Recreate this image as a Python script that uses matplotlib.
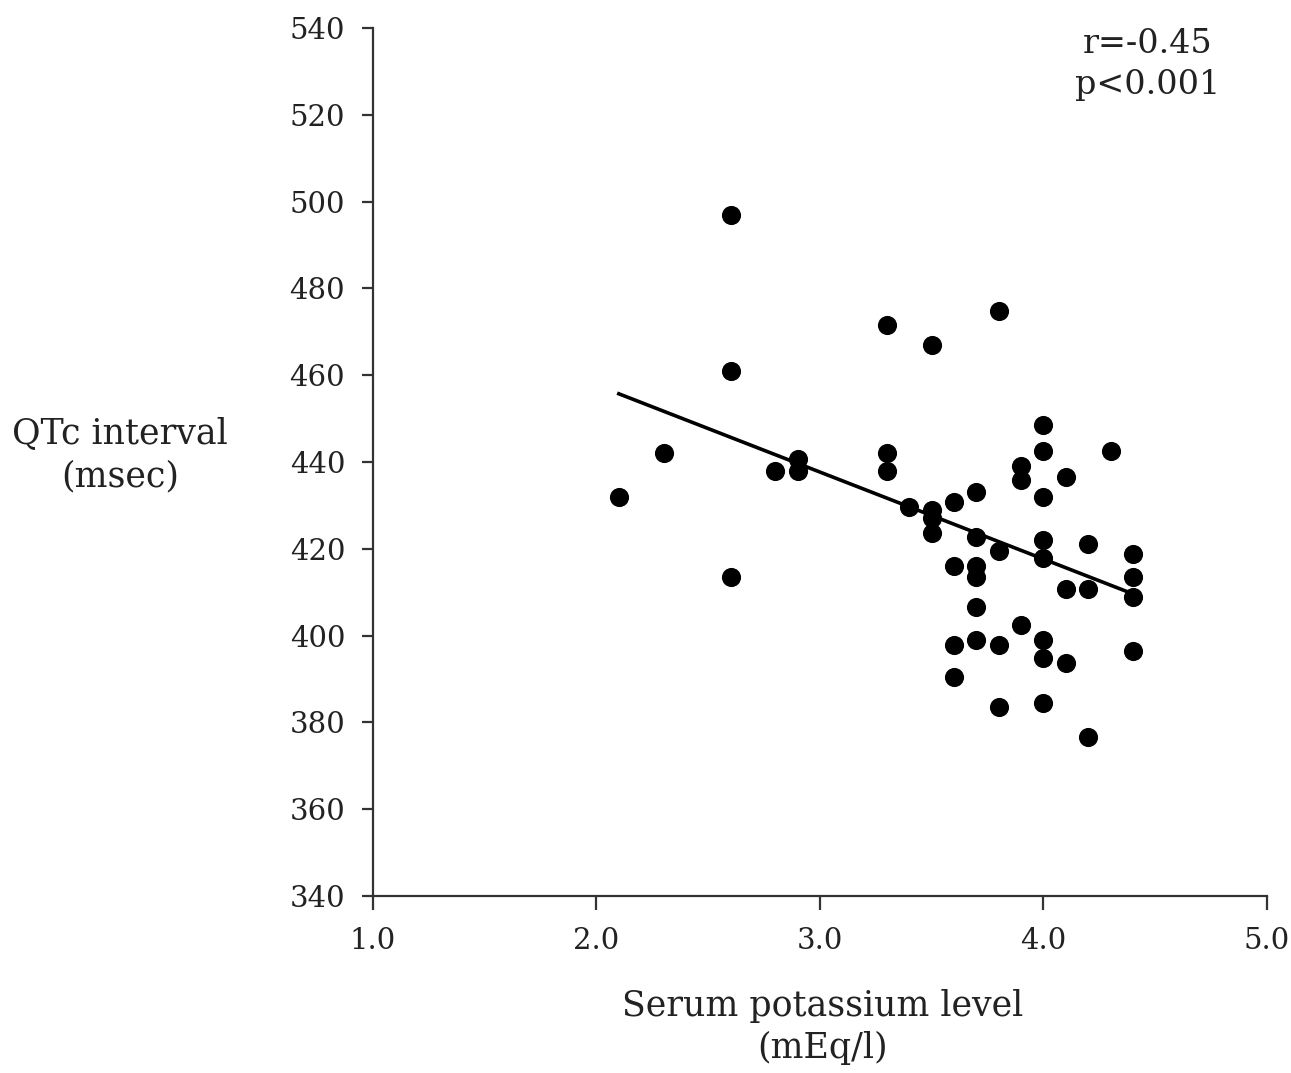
import matplotlib
matplotlib.use("Agg")
import matplotlib.pyplot as plt

# serum potassium (mEq/l) vs QTc (msec)
potassium = [2.1, 2.3, 2.6, 2.6, 2.6, 2.8, 2.9, 2.9,
             3.3, 3.3, 3.3, 3.4, 3.5, 3.5, 3.5, 3.5,
             3.6, 3.6, 3.6, 3.6,
             3.7, 3.7, 3.7, 3.7, 3.7, 3.7,
             3.8, 3.8, 3.8, 3.8,
             3.9, 3.9, 3.9,
             4.0, 4.0, 4.0, 4.0, 4.0, 4.0, 4.0, 4.0,
             4.1, 4.1, 4.1,
             4.2, 4.2, 4.2,
             4.3,
             4.4, 4.4, 4.4, 4.4]
qtc = [432, 442, 497, 461, 413.5, 438, 440.7, 438,
       471.6, 442, 438, 429.6, 467, 429, 427, 423.7,
       430.7, 416, 397.8, 390.5,
       433, 422.8, 416, 413.5, 406.6, 398.9,
       474.8, 419.5, 397.8, 383.5,
       439, 435.8, 402.4,
       448.5, 442.5, 432, 422, 417.8, 398.9, 394.8, 384.5,
       436.5, 410.7, 393.7,
       421, 410.7, 376.6,
       442.5,
       418.7, 413.5, 408.9, 396.4]

# regression line end points
fit_x = [2.1, 4.4]
fit_y = [455.7, 409.6]

x_ticks = [1.0, 2.0, 3.0, 4.0, 5.0]
y_ticks = list(range(340, 541, 20))

plt.rcParams['font.family'] = 'DejaVu Serif'

fig = plt.figure(figsize=(12.91, 10.73), dpi=100)
ax = fig.add_axes([0.2889, 0.165, 0.6925, 0.809])

ax.scatter(potassium, qtc, s=190, color='black', zorder=3, linewidths=0)
ax.plot(fit_x, fit_y, color='black', linewidth=2.6, zorder=2)

ax.set_xlim(1.0, 5.0)
ax.set_ylim(340, 540)
ax.set_xticks(x_ticks)
ax.set_xticklabels([f'{v:.1f}' for v in x_ticks])
ax.set_yticks(y_ticks)

for side in ['top', 'right']:
    ax.spines[side].set_visible(False)
for side in ['left', 'bottom']:
    ax.spines[side].set_linewidth(1.6)
    ax.spines[side].set_color('#333333')

ax.tick_params(axis='both', direction='out', width=1.6, color='#333333',
               labelsize=21, labelcolor='#222222')
ax.tick_params(axis='x', length=10, pad=12)
ax.tick_params(axis='y', length=8, pad=12)

fig.text(0.093, 0.576, 'QTc interval\n(msec)', ha='center', va='center',
         fontsize=25, color='#222222', linespacing=1.3)
fig.text(0.637, 0.043, 'Serum potassium level\n(mEq/l)', ha='center', va='center',
         fontsize=25, color='#222222', linespacing=1.3)
ax.text(0.867, 1.0, 'r=-0.45\np<0.001', transform=ax.transAxes, ha='center',
        va='top', fontsize=24, color='#222222', linespacing=1.35)

fig.savefig('out.png', dpi=100)
